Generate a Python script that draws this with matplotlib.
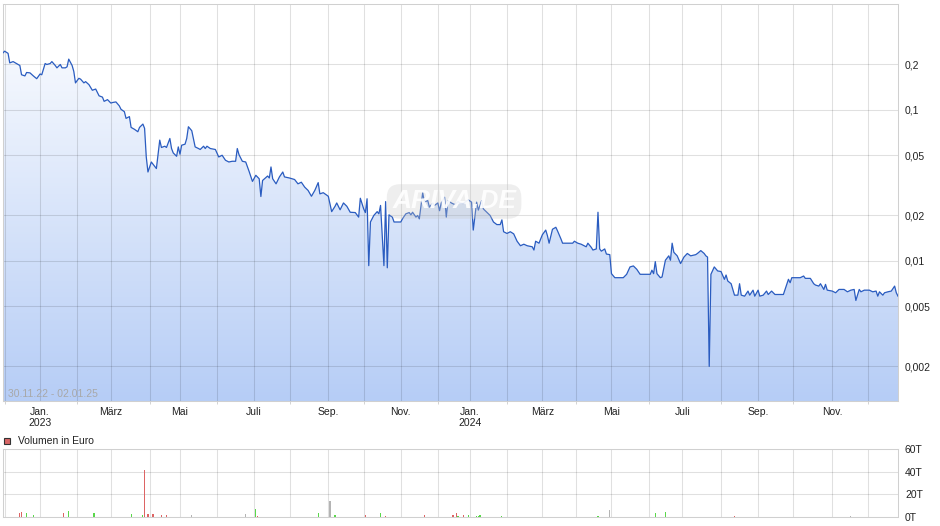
import numpy as np
import pandas as pd
import matplotlib
matplotlib.use('Agg')
import matplotlib.pyplot as plt
from matplotlib.colors import LinearSegmentedColormap
from matplotlib.patches import Rectangle
from matplotlib.ticker import NullLocator

plt.rcParams['font.family'] = ['Liberation Sans', 'DejaVu Sans']
plt.rcParams['font.size'] = 7.5

##### trading calendar (Xetra days)
start, end = '2022-11-30', '2025-01-02'
holidays = ['2022-12-26', '2023-04-07', '2023-04-10', '2023-05-01', '2023-12-25', '2023-12-26',
            '2024-01-01', '2024-03-29', '2024-04-01', '2024-05-01', '2024-12-24', '2024-12-25',
            '2024-12-26', '2024-12-31', '2025-01-01']

##### price (trading day number, EUR)
price_day = [0, 1, 3, 4, 6, 8, 10, 11, 13, 14, 16, 18, 20, 22, 23, 25, 26, 28, 29, 31,
             32, 34, 35, 37, 38, 39, 41, 42, 43, 45, 46, 48, 49, 51, 53, 55, 57, 59, 60, 62,
             64, 65, 67, 69, 70, 72, 73, 75, 76, 78, 80, 81, 83, 84, 85, 86, 88, 89, 91, 93,
             94, 96, 97, 99, 100, 101, 103, 104, 105, 106, 108, 109, 110, 112, 114, 116, 117, 119, 120, 121,
             123, 126, 128, 130, 132, 134, 136, 138, 139, 140, 142, 144, 146, 148, 150, 152, 153, 154, 157, 158,
             159, 160, 162, 164, 166, 167, 170, 173, 175, 177, 179, 181, 183, 185, 187, 188, 190, 193, 195, 197,
             198, 200, 202, 204, 206, 209, 211, 212, 214, 215, 216, 217, 218, 220, 222, 223, 224, 226, 227, 228,
             229, 231, 232, 236, 237, 239, 241, 242, 243, 245, 246, 247, 249, 250, 252, 253, 255, 256, 258, 259,
             260, 262, 263, 264, 266, 268, 270, 271, 273, 276, 278, 279, 281, 282, 284, 285, 287, 289, 291, 293,
             295, 296, 297, 299, 301, 303, 305, 307, 309, 311, 314, 315, 316, 318, 320, 322, 323, 324, 326, 328,
             329, 331, 332, 338, 339, 341, 343, 346, 347, 349, 350, 352, 353, 354, 355, 357, 358, 360, 361, 363,
             368, 370, 372, 374, 376, 378, 384, 385, 386, 387, 388, 390, 391, 393, 395, 396, 397, 398, 400, 402,
             404, 406, 408, 411, 412, 414, 416, 417, 418, 419, 420, 422, 424, 426, 428, 429, 430, 432, 434, 436,
             437, 438, 440, 442, 443, 445, 446, 448, 449, 451, 453, 454, 456, 458, 463, 465, 466, 467, 468, 473,
             475, 476, 479, 481, 482, 484, 485, 487, 488, 489, 492, 494, 496, 499, 501, 503, 505, 506, 508, 509,
             511, 514, 516, 518, 519, 520, 522, 523, 525, 527, 529, 530, 531]
price = [0.239, 0.245, 0.237, 0.205, 0.209, 0.203, 0.197, 0.171, 0.168, 0.177, 0.176, 0.168, 0.161, 0.173, 0.171, 0.203, 0.200, 0.203, 0.209, 0.197,
         0.190, 0.200, 0.190, 0.190, 0.193, 0.217, 0.197, 0.180, 0.151, 0.162, 0.160, 0.151, 0.154, 0.147, 0.135, 0.1375, 0.124, 0.1216, 0.114, 0.117,
         0.111, 0.112, 0.113, 0.1064, 0.101, 0.0974, 0.0879, 0.0903, 0.0766, 0.0744, 0.0717, 0.0766, 0.0806, 0.0755, 0.0488, 0.0388, 0.0452, 0.0437, 0.0409, 0.0631,
         0.0564, 0.0575, 0.0564, 0.0647, 0.0555, 0.0519, 0.0493, 0.0569, 0.0509, 0.0584, 0.0593, 0.0647, 0.0774, 0.0728, 0.0569, 0.0555, 0.0547, 0.0575, 0.0555, 0.0575,
         0.0555, 0.0547, 0.0488, 0.0501, 0.0464, 0.0452, 0.0457, 0.0457, 0.0555, 0.0506, 0.0457, 0.0452, 0.0392, 0.0336, 0.0369, 0.0350, 0.0267, 0.0341, 0.0365, 0.0354,
         0.0419, 0.0350, 0.0324, 0.0360, 0.0388, 0.0360, 0.0354, 0.0346, 0.0324, 0.0332, 0.0308, 0.0293, 0.0268, 0.0293, 0.0330, 0.0278, 0.0283, 0.0268, 0.0212, 0.0230,
         0.0242, 0.0218, 0.0242, 0.0230, 0.0210, 0.0209, 0.0195, 0.0260, 0.0221, 0.0209, 0.0258, 0.0093, 0.0181, 0.0200, 0.0212, 0.0205, 0.0233, 0.0093, 0.0247, 0.0090,
         0.0202, 0.0195, 0.0181, 0.0181, 0.0190, 0.0205, 0.0209, 0.0202, 0.0210, 0.0195, 0.0200, 0.0190, 0.0283, 0.0245, 0.0251, 0.0227, 0.0242, 0.0233, 0.0242, 0.0215,
         0.0242, 0.0264, 0.0195, 0.0251, 0.0242, 0.0236, 0.0247, 0.0242, 0.0240, 0.0254, 0.0245, 0.0160, 0.0245, 0.0217, 0.0251, 0.0221, 0.0210, 0.0200, 0.0181, 0.0174,
         0.0174, 0.0187, 0.0156, 0.0152, 0.0156, 0.0151, 0.0135, 0.0126, 0.0129, 0.0126, 0.0124, 0.0118, 0.0135, 0.0131, 0.0149, 0.0160, 0.0147, 0.0131, 0.0162, 0.0167,
         0.0158, 0.0140, 0.0131, 0.0131, 0.0135, 0.0131, 0.0129, 0.0124, 0.0131, 0.0123, 0.0118, 0.0120, 0.0210, 0.0120, 0.0116, 0.0120, 0.0111, 0.0110, 0.00823, 0.00774,
         0.00774, 0.00815, 0.00912, 0.00926, 0.0088, 0.00815, 0.00815, 0.00868, 0.00823, 0.00989, 0.00823, 0.00774, 0.00782, 0.0101, 0.0108, 0.0101, 0.0131, 0.0114, 0.0108, 0.0096,
         0.0106, 0.0112, 0.0108, 0.0110, 0.0112, 0.0117, 0.0112, 0.0108, 0.0106, 0.0020, 0.00815, 0.00912, 0.00858, 0.0085, 0.00755, 0.00806, 0.00736, 0.00706, 0.00593, 0.00593,
         0.00706, 0.00593, 0.00584, 0.00631, 0.00593, 0.0064, 0.00584, 0.0064, 0.00584, 0.00593, 0.00631, 0.00599, 0.00631, 0.00599, 0.00599, 0.00699, 0.00755, 0.00717, 0.00774, 0.00774,
         0.00794, 0.00766, 0.00766, 0.00706, 0.00692, 0.00681, 0.00706, 0.00647, 0.00699, 0.0064, 0.00631, 0.00615, 0.00647, 0.00647, 0.00624, 0.0064, 0.00647, 0.00547, 0.00647, 0.00624,
         0.0064, 0.0064, 0.00624, 0.00631, 0.00584, 0.00624, 0.00593, 0.00615, 0.00624, 0.00631, 0.00681, 0.00615, 0.00584]

##### volume in Euro
vol_day = [10, 11, 14, 18, 36, 39, 54, 76, 83, 84, 86, 89, 94, 97, 112, 144, 150, 151, 187, 194,
           197, 215, 224, 227, 250, 267, 269, 270, 273, 276, 281, 282, 283, 296, 353, 360, 387, 393, 434, 503]
vol = [3600, 4500, 3300, 1500, 3300, 5000, 3300, 2400, 1500, 41500, 2400, 2400, 1500, 1500, 1500, 2400, 6800, 600, 3300, 14000,
       1500, 1500, 3300, 600, 1500, 1500, 3300, 600, 1500, 1500, 600, 600, 1500, 600, 600, 6000, 3600, 4500, 600, 300]
vol_dir = ['down', 'down', 'up', 'up', 'down', 'up', 'up', 'up', 'up', 'down', 'down', 'down', 'down', 'down', 'flat', 'flat', 'up', 'down', 'up', 'flat',
           'up', 'down', 'up', 'down', 'down', 'down', 'down', 'up', 'down', 'up', 'up', 'up', 'up', 'up', 'up', 'flat', 'up', 'up', 'down', 'flat']

month_names = {1: 'Jan.', 3: 'März', 5: 'Mai', 7: 'Juli', 9: 'Sep.', 11: 'Nov.'}
ytick_vals = [0.002, 0.005, 0.01, 0.02, 0.05, 0.1, 0.2]
ytick_lbls = ['0,002', '0,005', '0,01', '0,02', '0,05', '0,1', '0,2']
vtick_vals = [0, 20000, 40000, 60000]
vtick_lbls = ['0T', '20T', '40T', '60T']
date_range = '30.11.22 - 02.01.25'

days = pd.bdate_range(start, end, freq='C', holidays=holidays)
n = len(days)
month_idx = np.where(days.month[1:] != days.month[:-1])[0] + 1
month_idx = month_idx[month_idx < n - 1]   # last month start is the right border
lab_idx, lab_txt, min_idx = [], [], []
for i in month_idx:
    d = days[i]
    if d.month in month_names:
        lab_idx.append(i)
        lab_txt.append(month_names[d.month] + ('\n' + str(d.year) if d.month == 1 else ''))
    else:
        min_idx.append(i)

ymin, ymax = 0.00118, 0.507
grid_kw = dict(color='k', alpha=0.12, lw=0.75)

fig = plt.figure(figsize=(9.4, 5.26), dpi=100)
ax = fig.add_axes([3 / 940, 1 - 401 / 526, 895 / 940, 397.5 / 526])
vax = fig.add_axes([3 / 940, 1 - 516.7 / 526, 895 / 940, 67.4 / 526])

# price panel
ax.set_yscale('log')
ax.set_autoscale_on(False)
ax.set_xlim(0, n - 1)
ax.set_ylim(ymin, ymax)
poly = ax.fill_between(price_day, price, ymin, color='none', lw=0)
cmap = LinearSegmentedColormap.from_list('fillgrad', ['#b6cdf6', '#ffffff'])
grad = np.linspace(0, 1, 256).reshape(-1, 1)
im = ax.imshow(grad, extent=[0, 1, 0, 1], transform=ax.transAxes, origin='lower',
               cmap=cmap, aspect='auto', zorder=0.5)
im.set_clip_path(poly.get_paths()[0], transform=ax.transData)
ax.plot(price_day, price, color='#2a5cc0', lw=0.9, zorder=3)
ax.set_xlim(0, n - 1)
ax.set_ylim(ymin, ymax)

ax.set_xticks(lab_idx, lab_txt)
ax.set_xticks(min_idx, minor=True)
ax.yaxis.tick_right()
ax.set_yticks(ytick_vals, ytick_lbls)
ax.yaxis.set_minor_locator(NullLocator())
ax.tick_params(axis='x', which='major', length=0, pad=4, colors='#222222')
ax.tick_params(axis='x', which='minor', length=2.5, color='#cccccc')
ax.tick_params(axis='y', length=0, pad=5, colors='#222222')
ax.grid(which='both', axis='x', **grid_kw)
ax.grid(which='major', axis='y', **grid_kw)
for s in ax.spines.values():
    s.set_color('#d0d0d0')
    s.set_linewidth(0.75)

ax.text(0.006, 0.009, date_range, transform=ax.transAxes, color='#a8a8a8', va='baseline')
ax.text(0.504, 0.502, 'ARIVA.DE', transform=ax.transAxes, ha='center', va='center',
        fontsize=19, fontweight='bold', style='italic', color='white', alpha=0.9,
        bbox=dict(boxstyle='round,pad=0.2,rounding_size=0.5', fc='#c8c8c8', ec='none', alpha=0.3), zorder=4)

# volume panel
colors = {'down': '#dd6464', 'up': '#5ad84a', 'flat': '#b4b4b4'}
vax.bar(vol_day, vol, width=0.7, color=[colors[c] for c in vol_dir], zorder=3)
vax.set_xlim(0, n - 1)
vax.set_ylim(0, 60000)
vax.yaxis.tick_right()
vax.set_yticks(vtick_vals, vtick_lbls)
vax.set_xticks(lab_idx, [])
vax.set_xticks(min_idx, minor=True)
vax.tick_params(axis='both', which='both', length=0)
vax.tick_params(axis='y', pad=5, colors='#222222')
vax.grid(which='both', axis='x', **grid_kw)
vax.grid(which='major', axis='y', **grid_kw)
for s in vax.spines.values():
    s.set_color('#d0d0d0')
    s.set_linewidth(0.75)

fig.add_artist(Rectangle((3.5 / 940, 1 - 444 / 526), 6.5 / 940, 6.5 / 526, transform=fig.transFigure,
                         fc='#d96666', ec='#333333', lw=0.8))
fig.text(18.5 / 940, 1 - 440.5 / 526, 'Volumen in Euro', va='center', color='#222222')

plt.savefig('out.png', dpi=100)
